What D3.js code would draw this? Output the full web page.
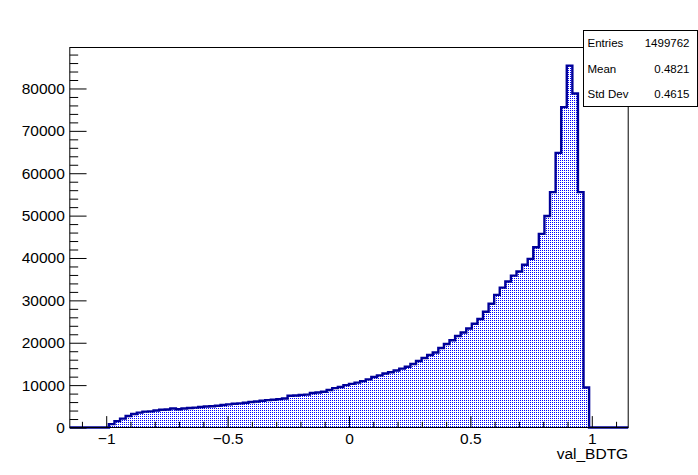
<!DOCTYPE html>
<html>
<head>
<meta charset="utf-8">
<style>
  body { margin: 0; background: #fff; }
  text { font-family: "Liberation Sans", Arial, Helvetica, sans-serif; }
</style>
<script src="https://cdn.jsdelivr.net/npm/d3@7/dist/d3.min.js"></script>
</head>
<body>
<div id="chart"></div>
<script>
// histogram binning
const xRange = [-1.15, 1.15];
const nBins = 100;

// bin contents
const counts = [
  0, 0, 0, 0, 0, 0, 0, 800, 1500, 2100,
  2700, 3200, 3500, 3750, 3800, 4000, 4200, 4250, 4500, 4300,
  4500, 4600, 4700, 4850, 4950, 5000, 5150, 5300, 5450, 5600,
  5700, 5850, 6000, 6150, 6300, 6450, 6550, 6700, 6850, 7500,
  7550, 7700, 7750, 8150, 8250, 8450, 8850, 9300, 9550, 10000,
  10300, 10600, 10950, 11350, 11900, 12300, 12750, 13050, 13450, 13900,
  14350, 15000, 15700, 16400, 17100, 17700, 18750, 19700, 20600, 21600,
  22400, 23350, 24500, 25600, 27300, 29200, 31300, 33000, 34450, 35850,
  36800, 38400, 39800, 42550, 45700, 49900, 55550, 64800, 75600, 85400,
  78800, 55550, 9450, 0, 0, 0, 0, 0, 0, 0
];

const statLabels = ["Entries", "Mean", "Std Dev"];
const statValues = ["1499762", "0.4821", "0.4615"];
const xTitle = "val_BDTG";

const width = 698, height = 475;
const frame = { left: 69.8, right: 628.2, top: 47.5, bottom: 427.5 };

const svg = d3.select("#chart").append("svg")
  .attr("width", width)
  .attr("height", height);

svg.append("rect").attr("width", width).attr("height", height).attr("fill", "#fff");

const defs = svg.append("defs");
const pat = defs.append("pattern")
  .attr("id", "dots")
  .attr("width", 2).attr("height", 2)
  .attr("patternUnits", "userSpaceOnUse");
pat.append("rect").attr("width", 1).attr("height", 1).attr("fill", "#0000ff");

const x = d3.scaleLinear().domain(xRange).range([frame.left, frame.right]);
const ymax = d3.max(counts) * 1.05;
const y = d3.scaleLinear().domain([0, ymax]).range([frame.bottom, frame.top]);

// step outline
const binW = (xRange[1] - xRange[0]) / nBins;
const pts = [[xRange[0], 0]];
counts.forEach((c, i) => {
  pts.push([xRange[0] + i * binW, c]);
  pts.push([xRange[0] + (i + 1) * binW, c]);
});
pts.push([xRange[1], 0]);

const line = d3.line().x(d => x(d[0])).y(d => y(d[1]));

svg.append("path")
  .attr("d", line(pts) + "Z")
  .attr("fill", "url(#dots)")
  .attr("stroke", "none");

svg.append("path")
  .attr("d", line(pts))
  .attr("fill", "none")
  .attr("stroke", "#000099")
  .attr("stroke-width", 2.4);

// axes
const fw = frame.right - frame.left, fh = frame.bottom - frame.top;
const yMajor = y.ticks(10);
const yMinor = d3.range(0, ymax, 2000).filter(v => !yMajor.includes(v));
const xMajor = x.ticks(5);
const xMinor = x.ticks(23).filter(v => !xMajor.some(m => Math.abs(m - v) < 1e-9));

const yAxis = svg.append("g").attr("transform", `translate(${frame.left},0)`)
  .call(d3.axisLeft(y).tickValues(yMajor).tickSize(-0.03 * fw).tickPadding(5)
    .tickFormat(d3.format("d")));
const yAxisMinor = svg.append("g").attr("transform", `translate(${frame.left},0)`)
  .call(d3.axisLeft(y).tickValues(yMinor).tickSize(-0.015 * fw).tickFormat(""));

const xAxis = svg.append("g").attr("transform", `translate(0,${frame.bottom})`)
  .call(d3.axisBottom(x).tickValues(xMajor).tickSize(-0.03 * fh)
    .tickFormat(d3.format("~g")));
const xAxisMinor = svg.append("g").attr("transform", `translate(0,${frame.bottom})`)
  .call(d3.axisBottom(x).tickValues(xMinor).tickSize(-0.015 * fh).tickFormat(""));

[yAxis, yAxisMinor, xAxis, xAxisMinor].forEach(g => {
  g.select(".domain").remove();
  g.selectAll("line").attr("stroke", "#000");
  g.selectAll("text").attr("fill", "#000").style("font-size", "15.5px")
    .style("font-family", '"Liberation Sans", Arial, sans-serif');
});
xAxis.selectAll("text").attr("dy", 0).attr("y", 16);

// frame
svg.append("rect")
  .attr("x", frame.left).attr("y", frame.top)
  .attr("width", fw).attr("height", fh)
  .attr("fill", "none").attr("stroke", "#000").attr("stroke-width", 1);

// x title
svg.append("text")
  .attr("x", frame.right).attr("y", 459)
  .attr("text-anchor", "end")
  .style("font-size", "15.5px")
  .text(xTitle);

// stats box
const box = { x: 583.5, y: 30.5, w: 114, h: 76 };
svg.append("rect")
  .attr("x", box.x).attr("y", box.y).attr("width", box.w).attr("height", box.h)
  .attr("fill", "#fff").attr("stroke", "#000").attr("stroke-width", 1);

const rowH = box.h / statLabels.length;
statLabels.forEach((lab, i) => {
  const cy = box.y + rowH * (i + 0.5);
  svg.append("text").attr("x", box.x + 4).attr("y", cy).attr("dy", "0.35em")
    .style("font-size", "11.5px").text(lab);
  svg.append("text").attr("x", box.x + box.w - 8).attr("y", cy).attr("dy", "0.35em")
    .attr("text-anchor", "end").style("font-size", "11.5px").text(statValues[i]);
});
</script>
</body>
</html>
